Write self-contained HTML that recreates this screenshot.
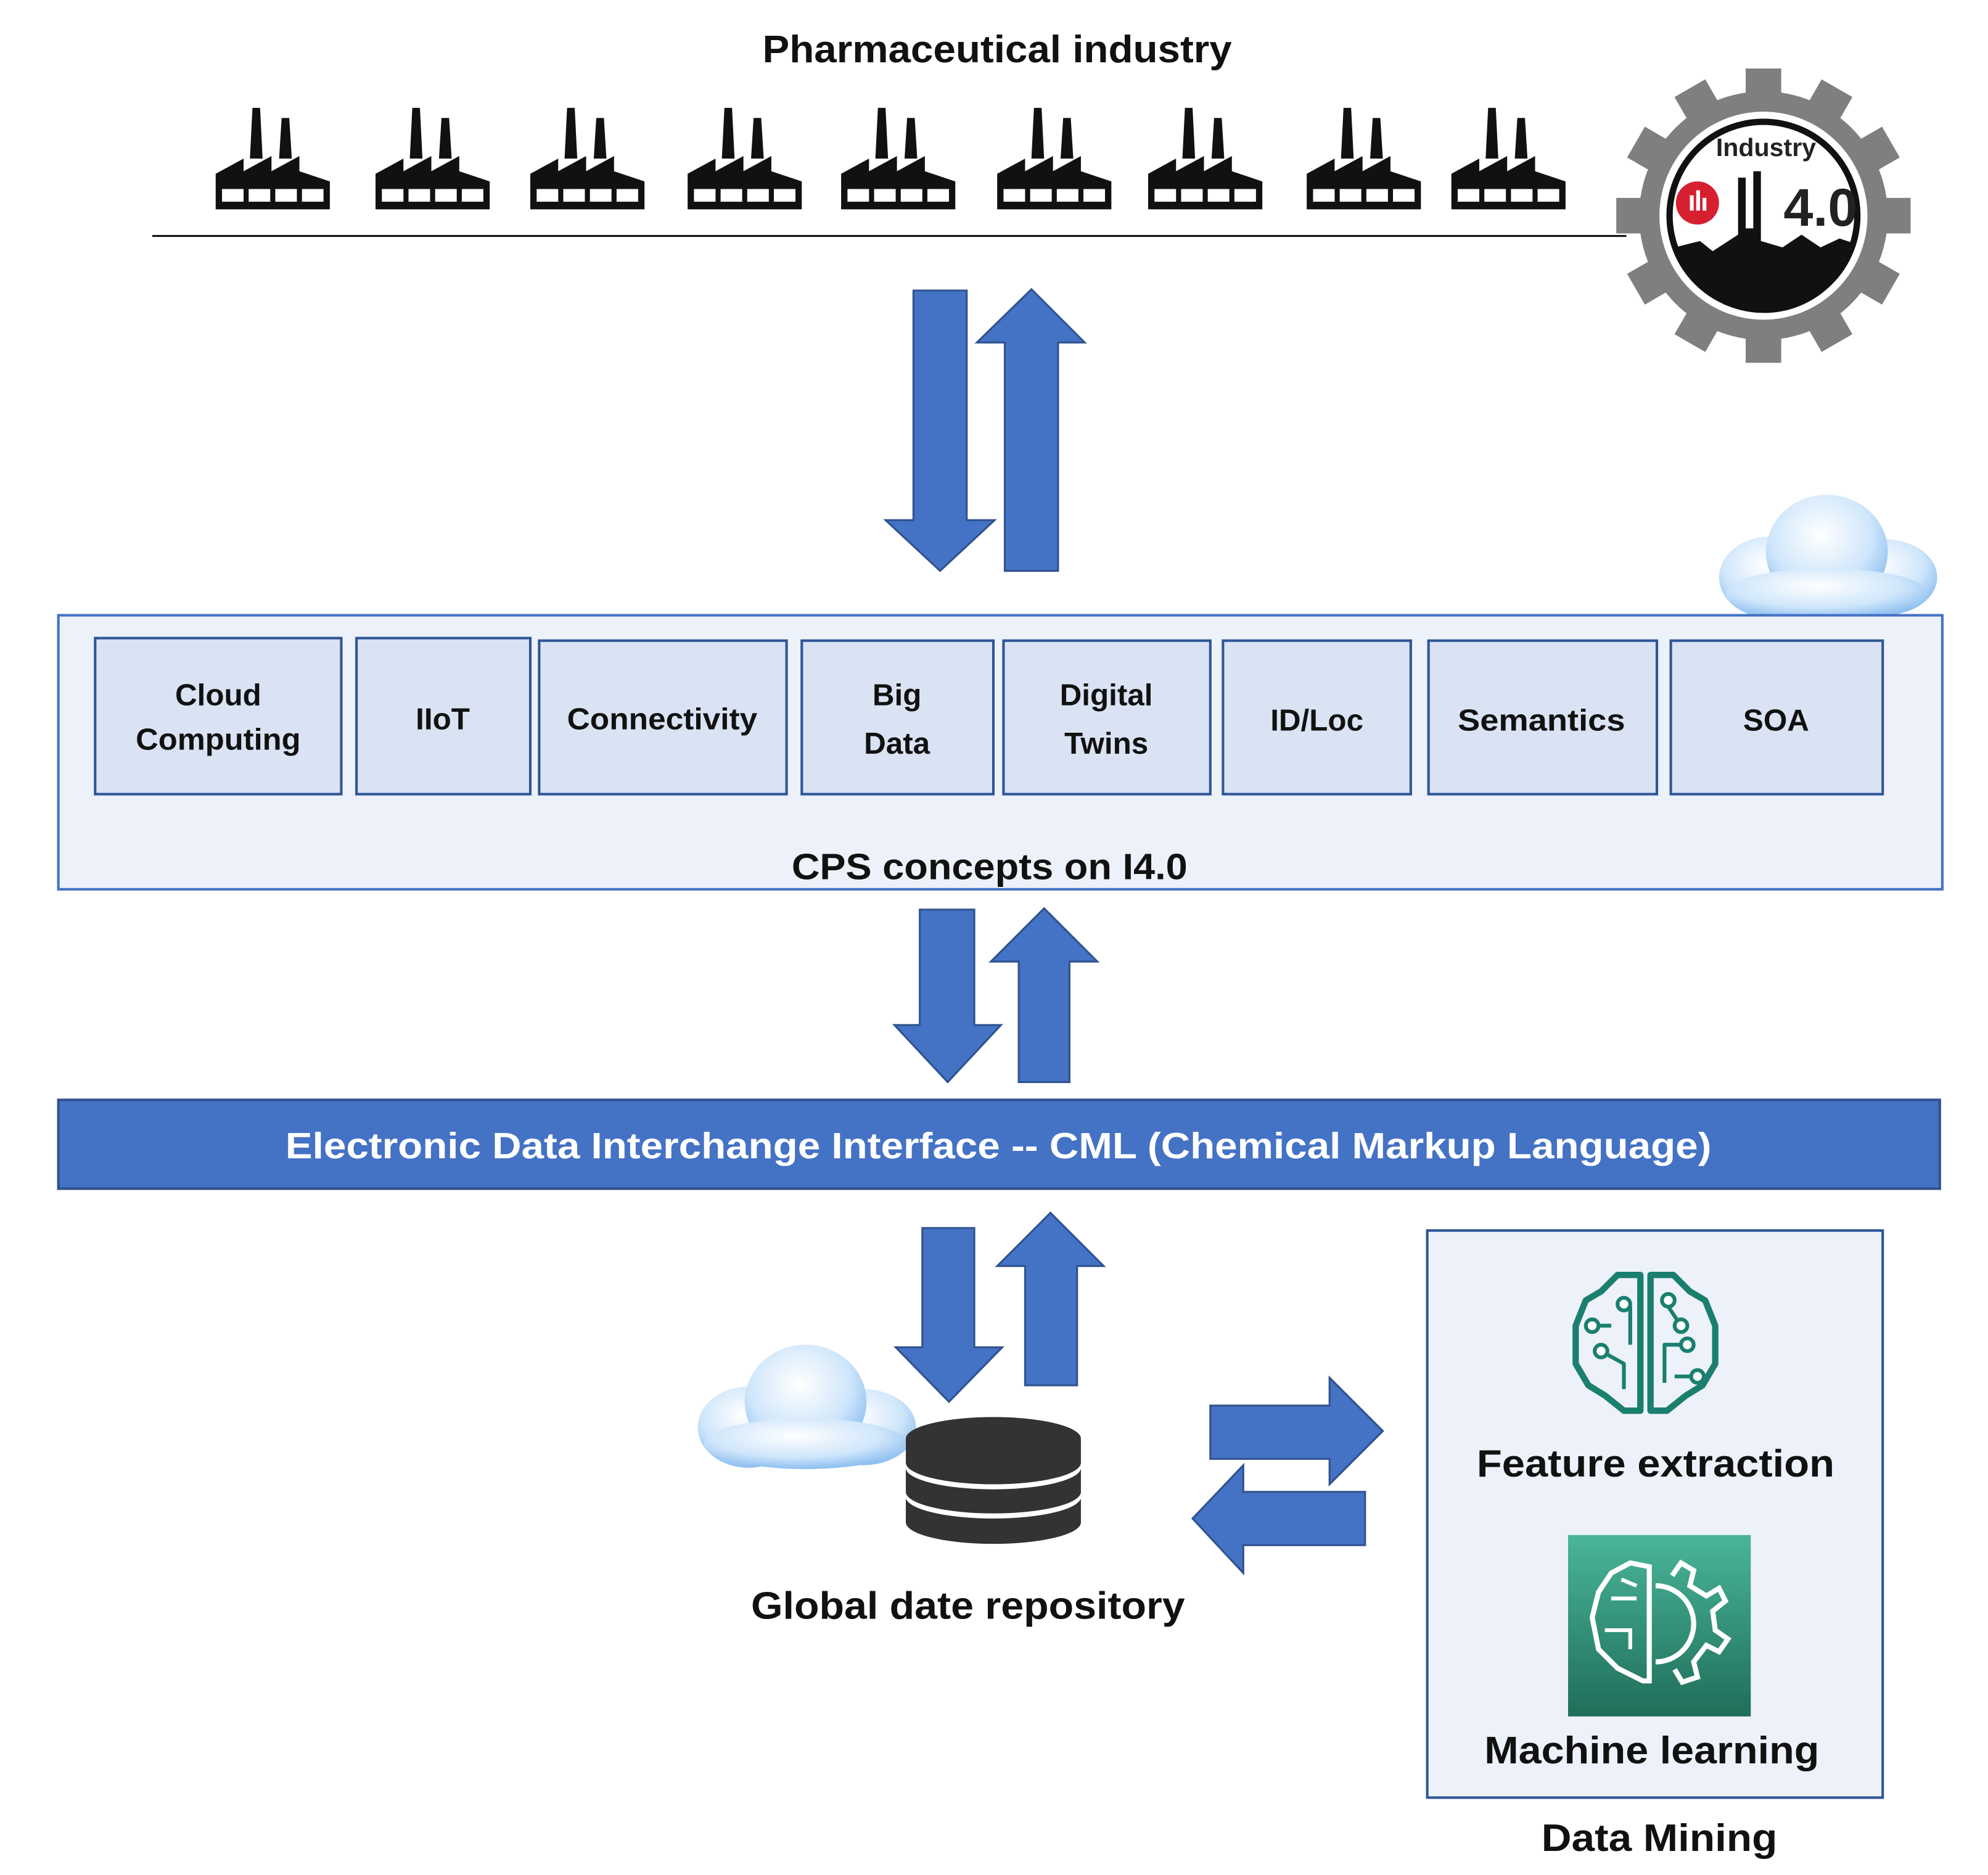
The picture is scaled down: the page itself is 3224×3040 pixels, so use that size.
<!DOCTYPE html>
<html><head><meta charset="utf-8"><style>html,body{margin:0;padding:0;background:#fff}svg{display:block}</style></head>
<body>
<svg xmlns="http://www.w3.org/2000/svg" width="3224" height="3040" viewBox="0 0 1567 1478" preserveAspectRatio="none" font-family="Liberation Sans, sans-serif" font-weight="bold">
<defs>
<g id="fac">
<path d="M27,40 L29,0 L35,0 L37,40 Z M50,40 L52,8 L58,8 L60,40 Z" fill="#111"/>
<path d="M0,80 L0,52 L22,40 L22,50 L44,38 L44,50 L66,38 L66,50 L90,58 L90,80 Z" fill="#111"/>
<rect x="5" y="64" width="17" height="10" fill="#fff"/><rect x="26" y="64" width="17" height="10" fill="#fff"/>
<rect x="47" y="64" width="17" height="10" fill="#fff"/><rect x="68" y="64" width="17" height="10" fill="#fff"/>
</g>
<radialGradient id="cg" cx="0.45" cy="0.35" r="0.7"><stop offset="0" stop-color="#ffffff"/><stop offset="0.6" stop-color="#cfe6fb"/><stop offset="1" stop-color="#7fb6ee"/></radialGradient>
<g id="cloud">
<ellipse cx="-45" cy="15" rx="40" ry="32" fill="url(#cg)"/>
<ellipse cx="45" cy="15" rx="42" ry="30" fill="url(#cg)"/>
<ellipse cx="0" cy="-5" rx="48" ry="45" fill="url(#cg)"/>
<ellipse cx="0" cy="28" rx="80" ry="20" fill="url(#cg)"/>
</g>
<linearGradient id="mlg" x1="0" y1="0" x2="0" y2="1"><stop offset="0" stop-color="#4ab59a"/><stop offset="1" stop-color="#1f6e5a"/></linearGradient>
</defs>

<text x="786" y="49" font-size="30" text-anchor="middle" fill="#111" textLength="370" lengthAdjust="spacingAndGlyphs">Pharmaceutical industry</text>
<use href="#fac" x="170" y="85"/><use href="#fac" x="296" y="85"/><use href="#fac" x="418" y="85"/>
<use href="#fac" x="542" y="85"/><use href="#fac" x="663" y="85"/><use href="#fac" x="786" y="85"/>
<use href="#fac" x="905" y="85"/><use href="#fac" x="1030" y="85"/><use href="#fac" x="1144" y="85"/>
<line x1="120" y1="186" x2="1282" y2="186" stroke="#111" stroke-width="1.5"/>

<g transform="translate(1390,170)">
<g fill="#7f7f7f">
<circle r="98"/>
<g id="teeth"><rect x="-14" y="-116" width="28" height="30"/><rect x="-14" y="86" width="28" height="30"/></g>
<use href="#teeth" transform="rotate(30)"/><use href="#teeth" transform="rotate(60)"/><use href="#teeth" transform="rotate(90)"/><use href="#teeth" transform="rotate(120)"/><use href="#teeth" transform="rotate(150)"/>
</g>
<circle r="82" fill="#fff"/>
<circle r="74" fill="#fff" stroke="#111" stroke-width="5"/>
<path d="M-70,25 L-50,20 L-40,28 L-20,15 L-20,-30 L-14,-30 L-14,10 L-8,10 L-8,-35 L-2,-35 L-2,20 L15,25 L30,15 L45,25 L60,18 L72,22 A74,74 0 0 1 -70,25 Z" fill="#111"/>
<circle cx="-52" cy="-10" r="17" fill="#d62030"/>
<rect x="-58" y="-16" width="3" height="12" fill="#fff"/><rect x="-53" y="-20" width="3" height="16" fill="#fff"/><rect x="-48" y="-14" width="3" height="10" fill="#fff"/>
<text x="2" y="-47" font-size="20" text-anchor="middle" fill="#222">Industry</text>
<text x="45" y="8" font-size="42" text-anchor="middle" fill="#222">4.0</text>
</g>

<g fill="#4472c4" stroke="#2f528f" stroke-width="1.5">
<path d="M720,229 L762,229 L762,410 L784,410 L741,450 L698,410 L720,410 Z"/>
<path d="M792,450 L834,450 L834,270 L855,270 L813,228 L770,270 L792,270 Z"/>
<path d="M725,717 L768,717 L768,808 L789,808 L747,853 L705,808 L725,808 Z"/>
<path d="M803,853 L843,853 L843,758 L865,758 L823,716 L781,758 L803,758 Z"/>
<path d="M727,968 L768,968 L768,1062 L790,1062 L748,1105 L706,1062 L727,1062 Z"/>
<path d="M808,1092 L849,1092 L849,998 L870,998 L828,956 L786,998 L808,998 Z"/>
<path d="M954,1108 L1048,1108 L1048,1086 L1090,1128 L1048,1170 L1048,1150 L954,1150 Z"/>
<path d="M1076,1176 L980,1176 L980,1155 L940,1197 L980,1240 L980,1218 L1076,1218 Z"/>
</g>

<use href="#cloud" x="1440" y="440"/>
<rect x="46" y="485" width="1485" height="216" fill="#edf1f9" stroke="#4472c4" stroke-width="2"/>
<g fill="#dae3f3" stroke="#2f5597" stroke-width="2">
<rect x="75" y="503" width="194" height="123"/><rect x="281" y="503" width="137" height="123"/>
<rect x="425" y="505" width="195" height="121"/><rect x="632" y="505" width="151" height="121"/>
<rect x="791" y="505" width="163" height="121"/><rect x="964" y="505" width="148" height="121"/>
<rect x="1126" y="505" width="180" height="121"/><rect x="1317" y="505" width="167" height="121"/>
</g>
<g font-size="24" text-anchor="middle" fill="#111">
<text x="172" y="556">Cloud</text><text x="172" y="591" textLength="130" lengthAdjust="spacingAndGlyphs">Computing</text>
<text x="349" y="575">IIoT</text>
<text x="522" y="575" textLength="150" lengthAdjust="spacingAndGlyphs">Connectivity</text>
<text x="707" y="556">Big</text><text x="707" y="594">Data</text>
<text x="872" y="556">Digital</text><text x="872" y="594">Twins</text>
<text x="1038" y="576">ID/Loc</text>
<text x="1215" y="576" textLength="132" lengthAdjust="spacingAndGlyphs">Semantics</text>
<text x="1400" y="576">SOA</text>
</g>
<text x="780" y="693" font-size="29" text-anchor="middle" fill="#111" textLength="312" lengthAdjust="spacingAndGlyphs">CPS concepts on I4.0</text>

<rect x="46" y="867" width="1483" height="70" fill="#4472c4" stroke="#2f528f" stroke-width="2"/>
<text x="787" y="913" font-size="29" text-anchor="middle" fill="#fff" textLength="1124" lengthAdjust="spacingAndGlyphs">Electronic Data Interchange Interface -- CML (Chemical Markup Language)</text>

<use href="#cloud" x="635" y="1110"/>
<g fill="#333">
<ellipse cx="783" cy="1200" rx="69" ry="17"/><rect x="714" y="1182" width="138" height="18"/>
<ellipse cx="783" cy="1180" rx="69" ry="17" fill="#fff"/>
<ellipse cx="783" cy="1176" rx="69" ry="17"/><rect x="714" y="1158" width="138" height="18"/>
<ellipse cx="783" cy="1157" rx="69" ry="17" fill="#fff"/>
<ellipse cx="783" cy="1153" rx="69" ry="17"/><rect x="714" y="1135" width="138" height="18"/>
<ellipse cx="783" cy="1134" rx="69" ry="17"/>
</g>
<text x="763" y="1276" font-size="30" text-anchor="middle" fill="#111" textLength="342" lengthAdjust="spacingAndGlyphs">Global date repository</text>

<rect x="1125" y="970" width="359" height="447" fill="#edf1f9" stroke="#2f5597" stroke-width="2"/>
<g fill="none" stroke="#1a7f6e" stroke-width="5" stroke-linejoin="round">
<path d="M1293,1005 L1275,1005 L1262,1018 L1250,1025 L1242,1045 L1242,1075 L1252,1092 L1265,1100 L1280,1112 L1293,1112 Z"/>
<path d="M1301,1005 L1319,1005 L1332,1018 L1344,1025 L1352,1045 L1352,1075 L1342,1092 L1329,1100 L1314,1112 L1301,1112 Z"/>
<path d="M1255,1045 L1270,1045 M1275,1030 L1285,1030 L1285,1060 M1262,1065 L1280,1075 L1280,1095 M1315,1030 L1325,1045 M1330,1060 L1312,1060 L1312,1090 M1320,1085 L1338,1085" stroke-width="3"/>
</g>
<g fill="#fff" stroke="#1a7f6e" stroke-width="3"><circle cx="1255" cy="1045" r="5"/><circle cx="1280" cy="1028" r="5"/><circle cx="1262" cy="1065" r="5"/><circle cx="1325" cy="1045" r="5"/><circle cx="1330" cy="1060" r="5"/><circle cx="1338" cy="1085" r="5"/><circle cx="1315" cy="1025" r="5"/></g>
<text x="1305" y="1164" font-size="30" text-anchor="middle" fill="#111" textLength="282" lengthAdjust="spacingAndGlyphs">Feature extraction</text>
<rect x="1236" y="1210" width="144" height="143" fill="url(#mlg)"/>
<g fill="none" stroke="#fff" stroke-width="4">
<path d="M1300,1235 L1285,1232 L1270,1240 L1260,1255 L1255,1275 L1260,1300 L1275,1315 L1295,1325 L1300,1325 Z"/>
<path d="M1305,1250 A30,30 0 0 1 1305,1310 M1318,1242 L1325,1232 L1335,1238 L1332,1250 L1345,1258 L1355,1252 L1360,1262 L1350,1270 L1352,1285 L1362,1292 L1355,1302 L1345,1297 L1335,1310 L1338,1322 L1326,1326 L1320,1316"/>
<path d="M1270,1260 L1290,1260 M1265,1285 L1285,1285 L1285,1300 M1278,1245 L1290,1250" stroke-width="3"/>
</g>
<text x="1302" y="1390" font-size="30" text-anchor="middle" fill="#111" textLength="264" lengthAdjust="spacingAndGlyphs">Machine learning</text>
<text x="1308" y="1459" font-size="30" text-anchor="middle" fill="#111" textLength="186" lengthAdjust="spacingAndGlyphs">Data Mining</text>
</svg>
</body></html>
